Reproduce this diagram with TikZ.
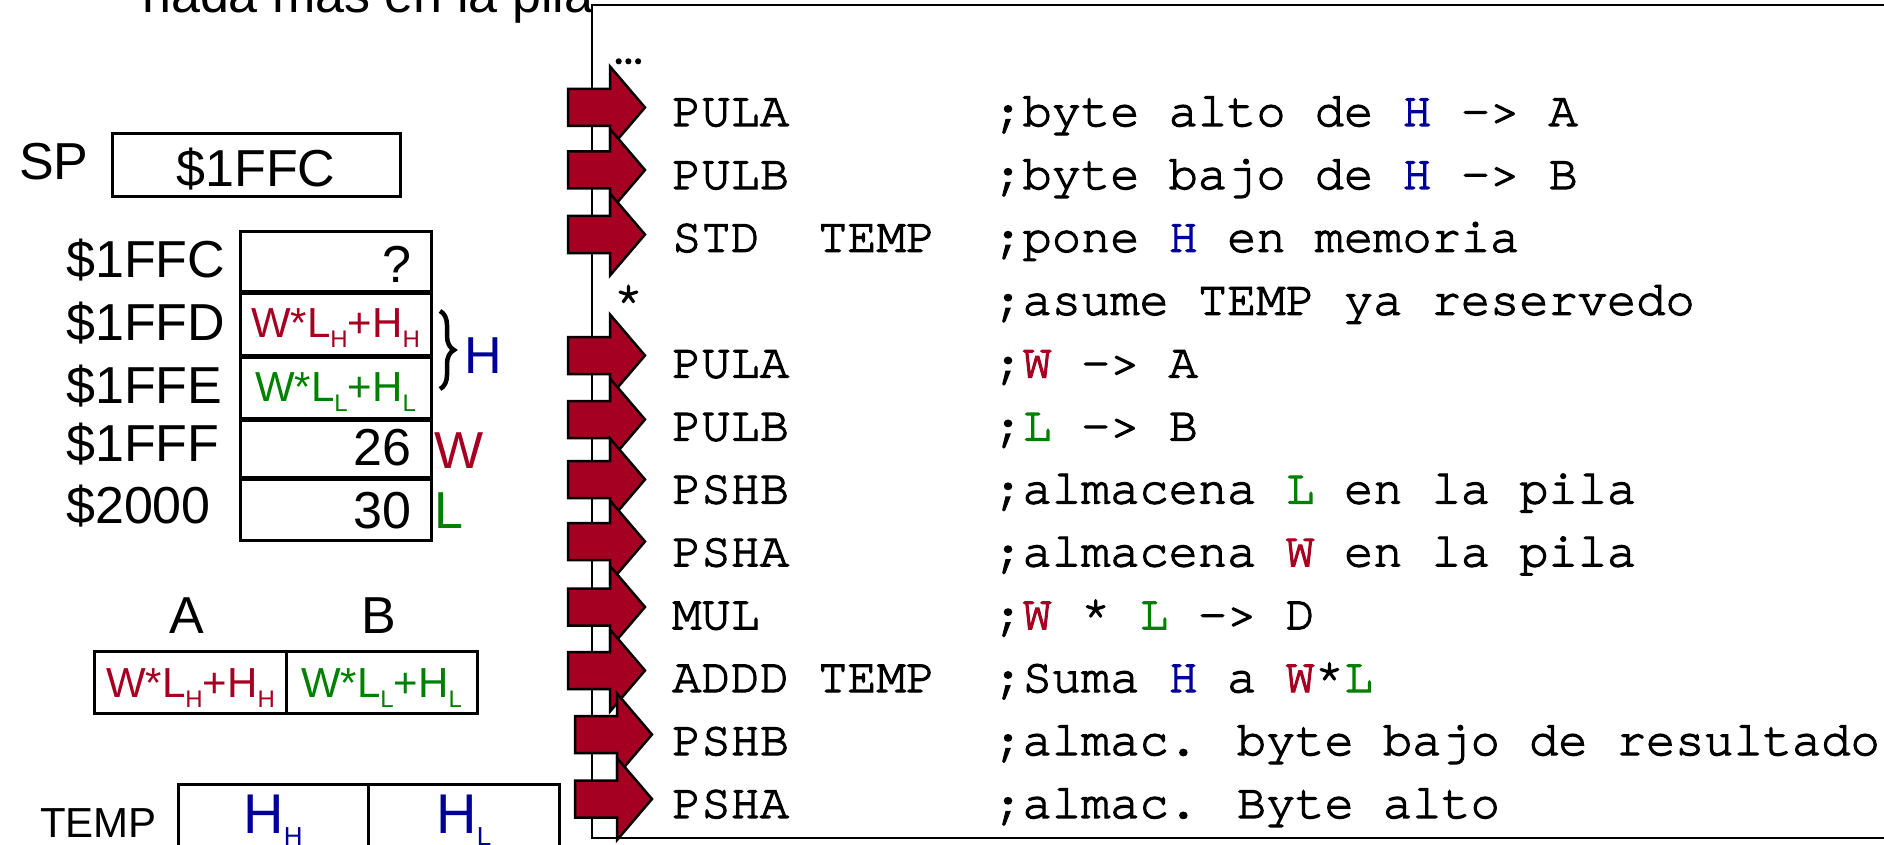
\documentclass[tikz,border=0pt]{standalone}
\usepackage{fontspec}
\setmainfont{Liberation Sans}
\newfontfamily\codefont[Extension=.otf,UprightFont=*-regular,FakeBold=2.5,UprightFeatures={FakeBold=2.5}]{texgyrecursor}
\usetikzlibrary{decorations.pathreplacing}
\definecolor{myred}{RGB}{165,0,33}
\definecolor{mygreen}{RGB}{0,128,0}
\definecolor{myblue}{RGB}{0,0,153}
\newcommand{\sbs}[3]{\raisebox{-#1pt}{\fontsize{#2}{#2}\selectfont #3}}
\tikzset{
  big/.style={font=\fontsize{52}{60}\selectfont, inner sep=0pt},
  mid/.style={font=\fontsize{42}{50}\selectfont, inner sep=0pt},
  code/.style={font=\codefont\fontsize{48.7}{56}\selectfont, inner sep=0pt, anchor=base west},
  cell/.style={draw=black, line width=3pt},
  codebox/.style={draw=black, fill=white, line width=2.2pt},
  blockarrow/.style={fill=myred, draw=black, line width=2.5pt, line join=miter},
}
\begin{document}
\begin{tikzpicture}[x=1pt,y=-1pt]
\useasboundingbox (0,0) rectangle (1884,845);

% title (partly hidden)
\node[big, anchor=base west] (title) at (142,13) {nada mas en la pila};

% SP register
\node[big, anchor=base west] (splbl) at (19,180) {SP};
\draw[cell] (112,134) rectangle (400,197);
\node[big, anchor=base] (spval) at (256,187) {\$1FFC};

% memory
\draw[cell] (240,231) rectangle (431,291);
\draw[cell] (240,293) rectangle (431,355);
\draw[cell] (240,357) rectangle (431,418);
\draw[cell] (240,420) rectangle (431,477);
\draw[cell] (240,479) rectangle (431,540);
\node[big, anchor=base west] (a1) at (66,277) {\$1FFC};
\node[big, anchor=base west] (a2) at (66,340) {\$1FFD};
\node[big, anchor=base west] (a3) at (66,403) {\$1FFE};
\node[big, anchor=base west] (a4) at (66,461) {\$1FFF};
\node[big, anchor=base west] (a5) at (66,523) {\$2000};
\node[big, anchor=base east] (v1) at (412,282) {?};
\node[mid, anchor=base, text=myred] (v2) at (335.5,337) {W*L\sbs{10}{24}{H}+H\sbs{10}{24}{H}};
\node[mid, anchor=base, text=mygreen] (v3) at (335.5,401) {W*L\sbs{10}{24}{L}+H\sbs{10}{24}{L}};
\node[big, anchor=base east] (v4) at (412,465) {26};
\node[big, anchor=base east] (v5) at (412,528) {30};
\draw[decorate, decoration={brace, amplitude=14pt, aspect=0.5}, line width=4.5pt] (440,311) -- (440,389);
\node[big, anchor=base west, text=myblue] (hlbl) at (464,373) {H};
\node[big, anchor=base west, text=myred] (wlbl) at (434,468) {W};
\node[big, anchor=base west, text=mygreen] (llbl) at (434,528) {L};

% A B registers
\node[big, anchor=base] (albl) at (186.5,633) {A};
\node[big, anchor=base] (blbl) at (379,633) {B};
\draw[cell] (94.5,651) rectangle (477,713);
\draw[cell] (286,651) -- (286,713);
\node[mid, anchor=base, text=myred] (aval) at (190.5,697) {W*L\sbs{10}{24}{H}+H\sbs{10}{24}{H}};
\node[mid, anchor=base, text=mygreen] (bval) at (381.5,697) {W*L\sbs{10}{24}{L}+H\sbs{10}{24}{L}};

% TEMP
\node[mid, anchor=base west] (templbl) at (40,837) {TEMP};
\draw[cell] (178,784) rectangle (559.5,900);
\draw[cell] (368.5,784) -- (368.5,900);
\node[font=\fontsize{56}{60}\selectfont, inner sep=0pt, anchor=base, text=myblue] (th) at (273,833) {H\sbs{12}{26}{H}};
\node[font=\fontsize{56}{60}\selectfont, inner sep=0pt, anchor=base, text=myblue] (tl) at (464,833) {H\sbs{12}{26}{L}};

% code box
\draw[codebox] (592,5) rectangle (1910,838);

% block arrows
\foreach \c/\xl in {107.5/568, 170/568, 234.5/568, 355.5/568, 419.5/568, 479.5/568, 541.5/568, 607/568, 670.5/568, 734.5/575, 799/575}{
  \draw[blockarrow] (\xl,\c-18.5) -- (\xl+42,\c-18.5) -- (\xl+42,\c-41) -- (\xl+77,\c) -- (\xl+42,\c+41) -- (\xl+42,\c+18.5) -- (\xl,\c+18.5) -- cycle;
}

% code text
\def\cz{613.6}
\def\cw{29.2}
\node[code] (dots) at (\cz,63) {…};
\node[code] (i0) at (\cz+2*\cw,126) {PULA};
\node[code] (k0) at (\cz+13*\cw,126) {;byte alto de \textcolor{myblue}{H} -> A};
\node[code] (i1) at (\cz+2*\cw,188.9) {PULB};
\node[code] (k1) at (\cz+13*\cw,188.9) {;byte bajo de \textcolor{myblue}{H} -> B};
\node[code] (i2) at (\cz+2*\cw,251.8) {STD};
\node[code] (o2) at (\cz+7*\cw,251.8) {TEMP};
\node[code] (k2) at (\cz+13*\cw,251.8) {;pone \textcolor{myblue}{H} en memoria};
\node[code] (star) at (\cz,314.7) {*};
\node[code] (k3) at (\cz+13*\cw,314.7) {;asume TEMP ya reservedo};
\node[code] (i4) at (\cz+2*\cw,377.6) {PULA};
\node[code] (k4) at (\cz+13*\cw,377.6) {;\textcolor{myred}{W} -> A};
\node[code] (i5) at (\cz+2*\cw,440.5) {PULB};
\node[code] (k5) at (\cz+13*\cw,440.5) {;\textcolor{mygreen}{L} -> B};
\node[code] (i6) at (\cz+2*\cw,503.4) {PSHB};
\node[code] (k6) at (\cz+13*\cw,503.4) {;almacena \textcolor{mygreen}{L} en la pila};
\node[code] (i7) at (\cz+2*\cw,566.3) {PSHA};
\node[code] (k7) at (\cz+13*\cw,566.3) {;almacena \textcolor{myred}{W} en la pila};
\node[code] (i8) at (\cz+2*\cw,629.2) {MUL};
\node[code] (k8) at (\cz+13*\cw,629.2) {;\textcolor{myred}{W} * \textcolor{mygreen}{L} -> D};
\node[code] (i9) at (\cz+2*\cw,692.1) {ADDD};
\node[code] (o9) at (\cz+7*\cw,692.1) {TEMP};
\node[code] (k9) at (\cz+13*\cw,692.1) {;Suma \textcolor{myblue}{H} a \textcolor{myred}{W}*\textcolor{mygreen}{L}};
\node[code] (i10) at (\cz+2*\cw,755) {PSHB};
\node[code] (k10) at (\cz+13*\cw,755) {;almac. byte bajo de resultado};
\node[code] (i11) at (\cz+2*\cw,817.9) {PSHA};
\node[code] (k11) at (\cz+13*\cw,817.9) {;almac. Byte alto};
\end{tikzpicture}
\end{document}
